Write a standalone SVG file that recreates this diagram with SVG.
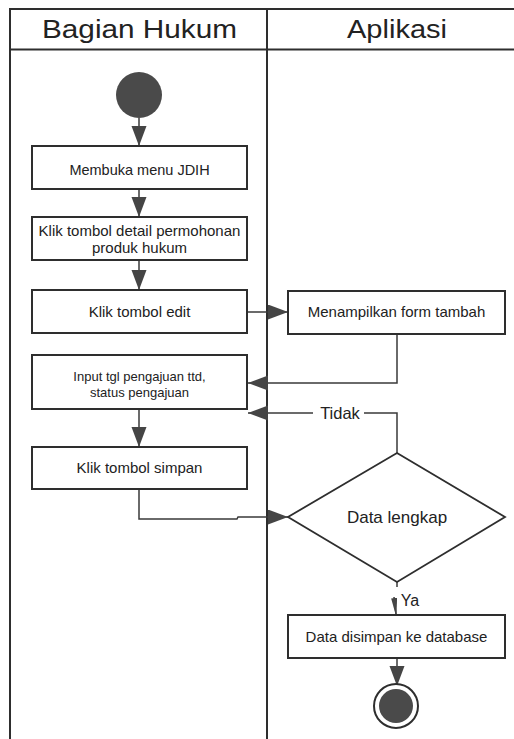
<svg xmlns="http://www.w3.org/2000/svg" width="514" height="739" viewBox="0 0 514 739">
<style>
  .lane { stroke: #2e2e2e; stroke-width: 2; fill: none; }
  .box { fill: #ffffff; stroke: #2e2e2e; stroke-width: 2; }
  .dia { fill: #ffffff; stroke: #2e2e2e; stroke-width: 1.8; }
  .ln { fill: none; stroke: #3a3a3a; stroke-width: 1.5; }
  .t { font-family: "Liberation Sans", Arial, sans-serif; fill: #222; text-anchor: middle; }
  .hdr { font-size: 26px; }
  .dot { fill: #4a4a4a; }
</style>
<defs>
  <marker id="ah" markerUnits="userSpaceOnUse" markerWidth="21" markerHeight="16" refX="20" refY="7.5" orient="auto">
    <path d="M0,0 L20,7.5 L0,15 z" fill="#454545"/>
  </marker>
  <marker id="ahs" markerUnits="userSpaceOnUse" markerWidth="17" markerHeight="7" refX="16" refY="3" orient="auto">
    <path d="M0,0 L16,2.5 L16,3.5 L0,6 z" fill="#454545"/>
  </marker>
</defs>
<rect x="0" y="0" width="514" height="739" fill="#ffffff"/>
<g id="swimlanes">
  <path class="lane" d="M10,739 L10,9 L514,9"/>
  <path class="lane" d="M10,49.5 L514,49.5"/>
  <path class="lane" d="M267,9 L267,739"/>
  <text class="t hdr" x="139.5" y="37.5" textLength="195" lengthAdjust="spacingAndGlyphs">Bagian Hukum</text>
  <text class="t hdr" x="397" y="37.5" textLength="100" lengthAdjust="spacingAndGlyphs">Aplikasi</text>
</g>
<g id="connectors">
  <path class="ln" d="M139,118 L139,146" marker-end="url(#ah)"/>
  <path class="ln" d="M139,189 L139,217" marker-end="url(#ah)"/>
  <path class="ln" d="M139,260 L139,290" marker-end="url(#ah)"/>
  <path class="ln" d="M247,312 L288,312" marker-end="url(#ah)"/>
  <path class="ln" d="M397,334 L397,383 L248,383" marker-end="url(#ah)"/>
  <path class="ln" d="M139,409 L139,447" marker-end="url(#ah)"/>
  <path class="ln" d="M397,453 L397,413 L364,413"/>
  <path class="ln" d="M313,413 L248,413" marker-end="url(#ah)"/>
  <path class="ln" d="M139,489 L139,519 L237,519 L238,517 L288,517" marker-end="url(#ah)"/>
  <path class="ln" d="M397,582 L397,587"/>
  <path class="ln" d="M394,597 L396,614" stroke="none" marker-end="url(#ahs)"/>
  <path class="ln" d="M397,658 L397,686" marker-end="url(#ah)"/>
  <text class="t" x="340" y="419" font-size="16.5">Tidak</text>
  <text class="t" x="410" y="606" font-size="16">Ya</text>
</g>
<g id="start">
  <circle class="dot" cx="139" cy="95" r="23"/>
</g>
<g id="membuka-menu">
  <rect class="box" x="32" y="146" width="215" height="43"/>
  <text class="t" x="139.5" y="175" font-size="14.5">Membuka menu JDIH</text>
</g>
<g id="klik-detail">
  <rect class="box" x="32" y="217" width="215" height="43"/>
  <text class="t" x="139.5" y="236" font-size="15">Klik tombol detail permohonan</text>
  <text class="t" x="139.5" y="253" font-size="15">produk hukum</text>
</g>
<g id="klik-edit">
  <rect class="box" x="32" y="290" width="215" height="43"/>
  <text class="t" x="139.5" y="317" font-size="15">Klik tombol edit</text>
</g>
<g id="menampilkan-form">
  <rect class="box" x="288" y="291" width="217" height="43"/>
  <text class="t" x="396.5" y="317" font-size="15">Menampilkan form tambah</text>
</g>
<g id="input-tgl">
  <rect class="box" x="32" y="355" width="215" height="54"/>
  <text class="t" x="139.5" y="381" font-size="13">Input tgl pengajuan ttd,</text>
  <text class="t" x="139.5" y="397" font-size="13">status pengajuan</text>
</g>
<g id="klik-simpan">
  <rect class="box" x="32" y="447" width="215" height="42"/>
  <text class="t" x="139.5" y="473" font-size="15">Klik tombol simpan</text>
</g>
<g id="data-lengkap">
  <polygon class="dia" points="397,453 505,517 397,582 288,517"/>
  <text class="t" x="397" y="523" font-size="17">Data lengkap</text>
</g>
<g id="data-disimpan">
  <rect class="box" x="288" y="615" width="217" height="43"/>
  <text class="t" x="396.5" y="642" font-size="15">Data disimpan ke database</text>
</g>
<g id="end">
  <circle cx="396" cy="706" r="22" fill="#ffffff" stroke="#2e2e2e" stroke-width="2"/>
  <circle class="dot" cx="396" cy="706" r="17"/>
</g>
</svg>
